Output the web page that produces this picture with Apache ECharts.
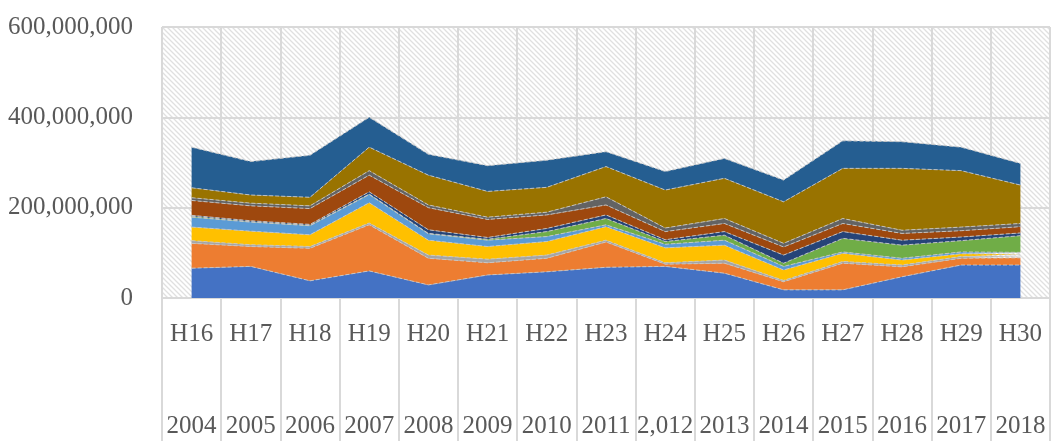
<!DOCTYPE html>
<html>
<head>
<meta charset="utf-8">
<script src="https://cdn.jsdelivr.net/npm/echarts@6/dist/echarts.min.js"></script>
<style>
  html, body { margin: 0; padding: 0; background: #fff; }
  #main { width: 1055px; height: 441px; }
</style>
</head>
<body>
<div id="main"></div>
<script>
// categories (two label rows)
let eraLabels = ['H16', 'H17', 'H18', 'H19', 'H20', 'H21', 'H22', 'H23', 'H24', 'H25', 'H26', 'H27', 'H28', 'H29', 'H30']
let yearLabels = ['2004', '2005', '2006', '2007', '2008', '2009', '2010', '2011', '2,012', '2013', '2014', '2015', '2016', '2017', '2018']
let yTicks = [0, 200000000, 400000000, 600000000]

// stacked series, in millions, bottom to top
let s01 = [66, 70, 38, 60, 29, 51, 58, 68, 70, 55, 18, 18, 47, 73, 73]
let s02 = [55, 44, 72, 102, 59, 27, 30, 56, 5, 22, 18, 59, 22, 15, 16]
let s03 = [6, 4, 4, 4, 7, 8, 7, 4, 3, 7, 3, 4, 4, 4, 4]
let s04 = [30, 30, 26, 45, 33, 28, 30, 30, 33, 33, 23, 18, 11, 6, 4]
let s05 = [22, 20, 20, 18, 14, 14, 11, 4, 8, 11, 8, 3, 4, 4, 4]
let s06 = [2, 1, 1, 1, 1, 2, 11, 14, 6, 11, 7, 30, 29, 25, 37]
let s07 = [2, 2, 2, 5, 8, 4, 7, 8, 4, 8, 18, 15, 11, 8, 6]
let s08 = [33, 33, 35, 37, 49, 40, 30, 22, 18, 18, 18, 18, 15, 14, 14]
let s09 = [6, 6, 6, 10, 6, 5, 6, 18, 8, 11, 8, 11, 7, 8, 7]
let s10 = [22, 18, 19, 52, 66, 57, 55, 67, 84, 89, 92, 111, 137, 125, 85]
let s11 = [90, 74, 93, 66, 46, 57, 60, 33, 41, 44, 48, 61, 59, 52, 48]

let allSeries = [s01, s02, s03, s04, s05, s06, s07, s08, s09, s10, s11]
let colors = ['#4472C4', '#ED7D31', '#A5A5A5', '#FFC000', '#5B9BD5', '#70AD47',
	'#264478', '#9E480E', '#636363', '#997300', '#255E91']

// diagonal hatch for the plot background
let hatch = document.createElement('canvas')
hatch.width = 5
hatch.height = 5
let hctx = hatch.getContext('2d')
hctx.strokeStyle = '#e0e0e0'
hctx.lineWidth = 1.3
hctx.beginPath()
hctx.moveTo(-1, -1); hctx.lineTo(6, 6)
hctx.moveTo(-1, 4); hctx.lineTo(1, 6)
hctx.moveTo(4, -1); hctx.lineTo(6, 1)
hctx.stroke()

let textColor = '#595959'
let fontFam = '"Liberation Serif", "DejaVu Serif", serif'
let gridColor = '#d9d9d9'

let chart = echarts.init(document.getElementById('main'))
let option = {
	backgroundColor: '#fff',
	animation: false,
	grid: {
		left: 162,
		right: 5,
		top: 27,
		bottom: 143,
		show: true,
		borderWidth: 0,
		backgroundColor: { image: hatch, repeat: 'repeat' }
	},
	xAxis: [{
			type: 'category',
			boundaryGap: true,
			data: eraLabels,
			axisLine: { show: true, lineStyle: { color: gridColor, width: 2 } },
			axisTick: { show: true, length: 143, lineStyle: { color: gridColor, width: 2 } },
			splitLine: { show: true, lineStyle: { color: gridColor, width: 2 } },
			axisLabel: {
				interval: 0,
				margin: 24,
				color: textColor,
				fontFamily: fontFam,
				fontSize: 25
			}
		},
		{
			type: 'category',
			position: 'bottom',
			offset: 92,
			boundaryGap: true,
			data: yearLabels,
			axisLine: { show: false },
			axisTick: { show: false },
			splitLine: { show: false },
			axisLabel: {
				interval: 0,
				margin: 24,
				color: textColor,
				fontFamily: fontFam,
				fontSize: 25
			}
		}
	],
	yAxis: {
		type: 'value',
		min: yTicks[0],
		max: yTicks[yTicks.length - 1],
		interval: yTicks[1] - yTicks[0],
		axisLine: { show: false },
		axisTick: { show: false },
		splitLine: { show: true, lineStyle: { color: gridColor, width: 2 } },
		axisLabel: {
			margin: 29,
			color: textColor,
			fontFamily: fontFam,
			fontSize: 25,
			formatter: v => v.toLocaleString('en-US')
		}
	},
	series: allSeries.map((arr, i) => ({
		type: 'line',
		stack: 'total',
		xAxisIndex: 0,
		symbol: 'none',
		data: arr.map(v => v * 1e6),
		lineStyle: { width: 1, type: 'dashed', color: 'rgba(200,200,200,0.9)' },
		areaStyle: { color: colors[i], opacity: 1 },
		itemStyle: { color: colors[i] }
	}))
}
chart.setOption(option)
</script>
</body>
</html>
